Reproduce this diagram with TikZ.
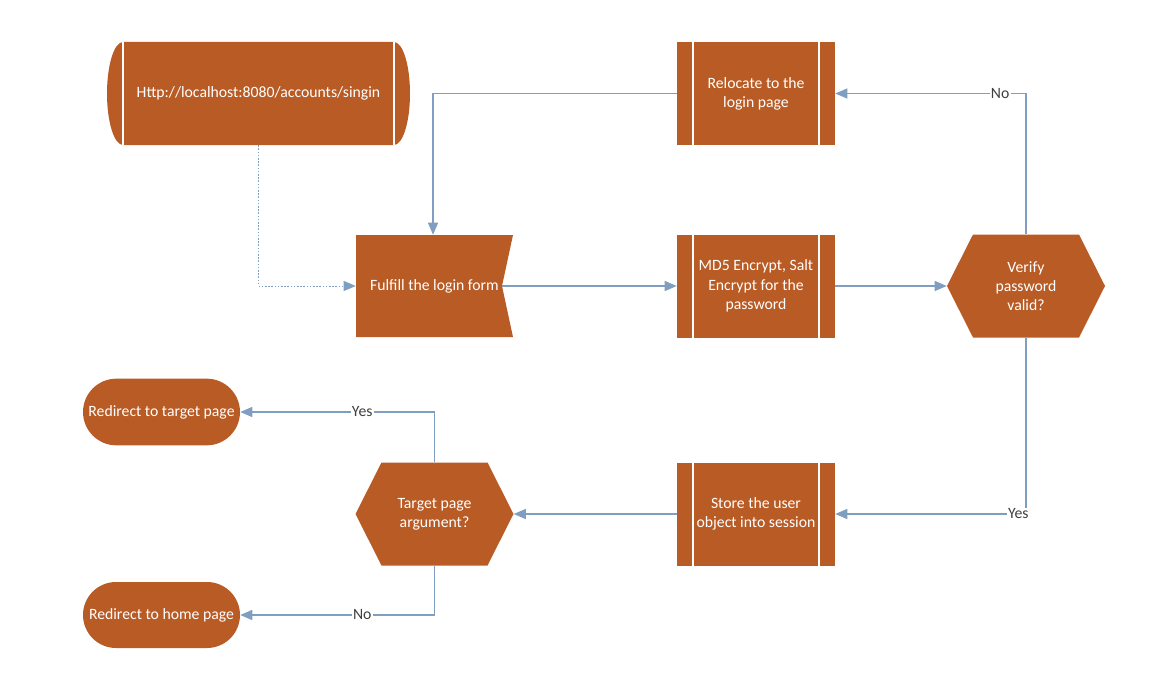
\documentclass[tikz,border=0pt]{standalone}
\usepackage{fontspec}
\setmainfont{Carlito}
\usetikzlibrary{arrows.meta,shapes.misc,backgrounds}
\definecolor{boxfill}{HTML}{B95B25}
\definecolor{flow}{HTML}{7F9EC0}
\definecolor{labeltext}{HTML}{404040}
% outlines drawn behind the named nodes (coordinates relative to the node centre)
\newcommand\drawpredef[1]{%
  \fill[boxfill,shift={(#1.center)}] (-79,-51.5) rectangle (79,51.5);
  \draw[white,line width=1.5pt,shift={(#1.center)}] (-63,-51.5) -- (-63,51.5) (63,-51.5) -- (63,51.5);}
\newcommand\drawhexa[1]{%
  \fill[boxfill,shift={(#1.center)}]
    (-79,0) -- (-53,-51.5) -- (53,-51.5) -- (79,0) -- (53,51.5) -- (-53,51.5) -- cycle;}
\newcommand\drawnotched[1]{%
  \fill[boxfill,shift={(#1.center)}]
    (-78.5,-51) -- (78.5,-51) -- (67.5,0) -- (78.5,51) -- (-78.5,51) -- cycle;}
\newcommand\drawstored[1]{%
  \fill[boxfill,shift={(#1.center)}] (-135.5,-51.5) -- (135.5,-51.5)
    arc[start angle=90,end angle=-90,x radius=12pt,y radius=38.625pt]
    -- (-135.5,51.5)
    arc[start angle=270,end angle=90,x radius=12pt,y radius=38.625pt] -- cycle;
  \draw[white,line width=1.5pt,shift={(#1.center)}] (-135.5,-51.5) -- (-135.5,51.5) (135.5,-51.5) -- (135.5,51.5);}
\begin{document}
\begin{tikzpicture}[x=0.75pt,y=-0.75pt,
  every node/.style={font=\fontsize{11.8}{14.4}\selectfont,text=white,align=center,inner sep=0pt},
  shapebox/.style={rectangle,minimum width=118.5pt,minimum height=77.25pt},
  notchbox/.style={rectangle,minimum width=117.75pt,minimum height=76.5pt},
  storebox/.style={rectangle,minimum width=227.25pt,minimum height=77.25pt},
  terminal/.style={rounded rectangle,fill=boxfill,minimum width=117.75pt,minimum height=50pt},
  link/.style={draw=flow,line width=0.9pt,-{Triangle[length=9pt,width=7.5pt]}},
  lbl/.style={fill=white,text=labeltext,inner sep=1pt}
]
\useasboundingbox (0,0) rectangle (1161,699);

% process steps
\node[storebox] (url) at (258.5,93.5) {Http://localhost:8080/accounts/singin};
\node[shapebox] (reloc) at (756,93.5) {Relocate to the\\login page};
\node[notchbox] (form) at (434.5,286) {Fulfill the login form};
\node[shapebox] (md5) at (756,286) {MD5 Encrypt, Salt\\Encrypt for the\\password};
\node[shapebox] (verify) at (1026,286) {Verify\\password\\valid?};
\node[shapebox] (store) at (756,514) {Store the user\\object into session};
\node[shapebox] (target) at (434.5,514) {Target page\\argument?};
\node[terminal] (rtarget) at (161.5,412) {Redirect to target page};
\node[terminal,minimum height=49.5pt] (rhome) at (161.5,615) {Redirect to home page};
\coordinate (notch) at ([xshift=-8.25pt]form.east);

\begin{scope}[on background layer]
  \drawstored{url}
  \drawpredef{reloc}
  \drawnotched{form}
  \drawpredef{md5}
  \drawhexa{verify}
  \drawpredef{store}
  \drawhexa{target}
\end{scope}

% connectors
\draw[link,dash pattern=on 1.2pt off 1.2pt,line width=0.6pt] (url.south) |- (form.west);
\draw[link] (reloc.west) -| ([xshift=-1.1pt]form.north);
\draw[link] (notch) -- (md5.west);
\draw[link] (md5.east) -- (verify.west);
\draw[link] (verify.north) |- node[lbl,pos=0.568] {No} (reloc.east);
\draw[link] (verify.south) |- node[lbl,pos=0.52] {Yes} (store.east);
\draw[link] (store.west) -- (target.east);
\draw[link] (target.north) |- node[lbl,pos=0.686] {Yes} (rtarget.east);
\draw[link] (target.south) |- node[lbl,pos=0.686] {No} (rhome.east);
\end{tikzpicture}
\end{document}
